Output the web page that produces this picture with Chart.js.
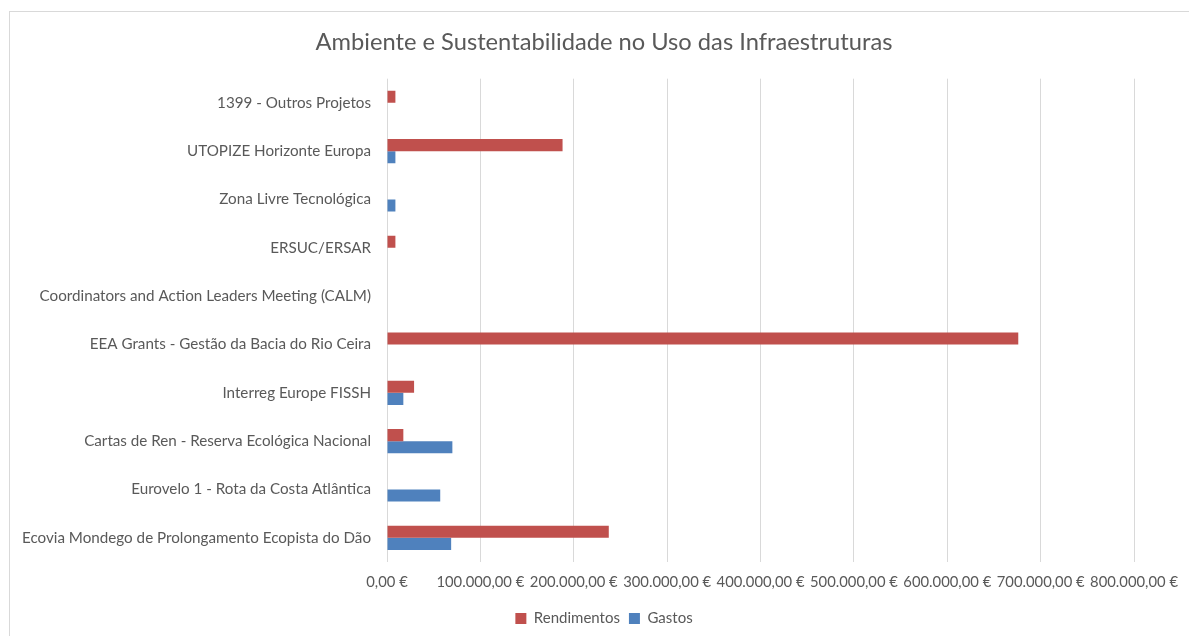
<!DOCTYPE html>
<html>
<head>
<meta charset="utf-8">
<script src="https://cdn.jsdelivr.net/npm/chart.js@4.4.1/dist/chart.umd.min.js"></script>
<style>
    body { margin: 0; background: #fff; }
    #wrap { position: relative; width: 1189px; height: 636px; overflow: hidden; }
    #frame { position: absolute; left: 9px; top: 11px; width: 1200px; height: 640px; border: 1px solid #d9d9d9; box-sizing: border-box; }
    #chart { position: absolute; left: 0; top: 0; }
</style>
</head>
<body>
<div id="wrap">
    <div id="frame"></div>
    <canvas id="chart" width="1189" height="636"></canvas>
</div>
<script>
// categories listed top to bottom as they appear
var projetos = [
    '1399 - Outros Projetos',
    'UTOPIZE Horizonte Europa',
    'Zona Livre Tecnológica',
    'ERSUC/ERSAR',
    'Coordinators and Action Leaders Meeting (CALM)',
    'EEA Grants - Gestão da Bacia do Rio Ceira',
    'Interreg Europe FISSH',
    'Cartas de Ren - Reserva Ecológica Nacional',
    'Eurovelo 1 - Rota da Costa Atlântica',
    'Ecovia Mondego de Prolongamento Ecopista do Dão'
];
var rendimentos = [9000, 188000, 0, 9000, 0, 676000, 29000, 17500, 0, 237500];
var gastos = [0, 9000, 9000, 0, 0, 0, 17500, 70000, 57000, 68700];
var xMax = 800000;
var xStep = 100000;

function euro(v) {
    var p = v.toFixed(2).split('.');
    p[0] = p[0].replace(/\B(?=(\d{3})+(?!\d))/g, '.');
    return p[0] + ',' + p[1] + ' €';
}

var txt = '#595959';
var font = 'Lato, "Open Sans", sans-serif';
var catSize = 15.2;

// y labels are longer than the axis box (left padding keeps title/legend centred
// like the original), so draw them mirrored -> no clipping, pulled back by widest.
var mctx = document.createElement('canvas').getContext('2d');
mctx.font = 'normal ' + catSize + 'px ' + font;
var widest = Math.max.apply(null, projetos.map(function(t) { return mctx.measureText(t).width; }));

new Chart(document.getElementById('chart'), {
    type: 'bar',
    data: {
        labels: projetos,
        datasets: [
            { label: 'Rendimentos', data: rendimentos, backgroundColor: '#c0504d', borderWidth: 0 },
            { label: 'Gastos', data: gastos, backgroundColor: '#4f81bd', borderWidth: 0 }
        ]
    },
    options: {
        indexAxis: 'y',
        responsive: false, animation: false,
        layout: { padding: { left: 72, right: 53, top: 0, bottom: 0 } },
        datasets: { bar: { categoryPercentage: 0.5, barPercentage: 1 } },
        plugins: {
            title: { display: true, text: 'Ambiente e Sustentabilidade no Uso das Infraestruturas',
                color: txt, font: { family: font, size: 23.7, weight: 'normal', lineHeight: 1 },
                padding: { top: 31, bottom: 24 } },
            legend: { position: 'bottom',
                labels: { color: txt, font: { family: font, size: 15 }, boxWidth: 11, boxHeight: 11, padding: 9 } },
            tooltip: { enabled: false }
        },
        scales: {
            x: { min: 0, max: xMax,
                ticks: { stepSize: xStep, autoSkip: false, maxRotation: 0, color: txt, padding: 11,
                    font: { family: font, size: 14.8 }, callback: function(v) { return euro(v); } },
                grid: { color: '#d9d9d9', lineWidth: 1, drawTicks: false },
                border: { display: false },
                afterFit: function(s) { s.height = 40; } },
            y: { ticks: { color: txt, mirror: true, crossAlign: 'far', padding: -16 - widest,
                    font: { family: font, size: catSize, weight: 'normal' } },
                grid: { display: false, drawTicks: false },
                border: { display: false },
                afterFit: function(s) { s.width = 315; } }
        }
    }
});
</script>
</body>
</html>
